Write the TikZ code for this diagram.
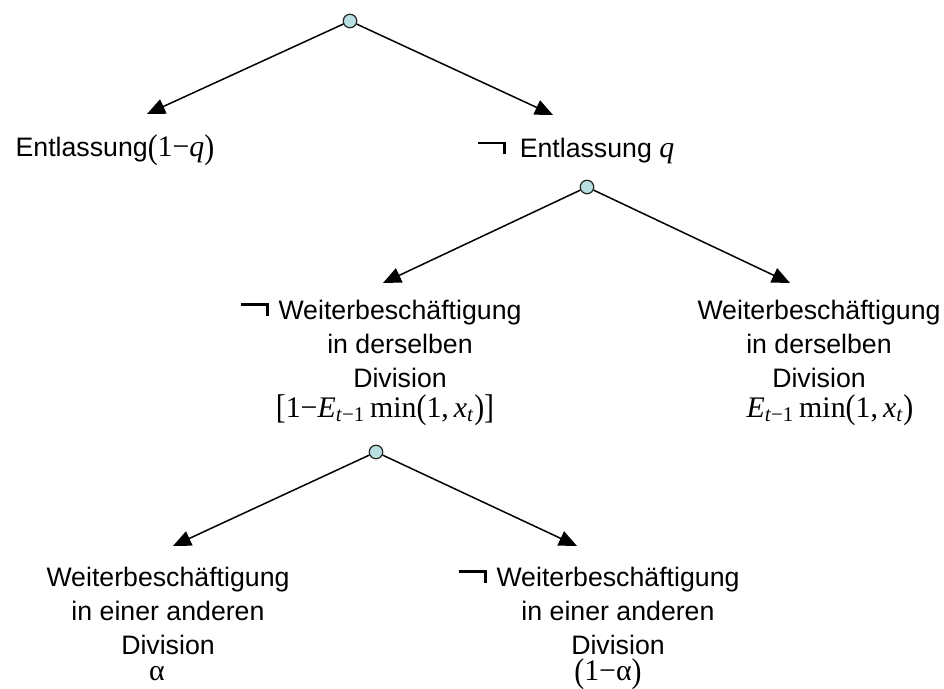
\documentclass[tikz,border=0pt]{standalone}
\usepackage{fontspec}
\usepackage{graphicx}
\setmainfont{Liberation Sans}
\newfontfamily\tms{Liberation Serif}
\usetikzlibrary{arrows.meta,positioning}
\definecolor{knotfill}{RGB}{184,223,226}
\definecolor{knotdraw}{RGB}{40,40,40}
\newcommand{\nicht}{\rule[0.28cm]{0.56cm}{1.3pt}\hspace{-1.3pt}\rule[0.07cm]{1.3pt}{0.24cm}}
\newcommand{\hp}[1]{\raisebox{-0.05em}{\scalebox{1}[1.15]{#1}}}
\newcommand{\fml}[1]{{\tms\fontsize{17}{20}\selectfont #1}}

\begin{document}
\begin{tikzpicture}[x=0.02cm, y=-0.02cm,
  knot/.style={circle, draw=knotdraw, fill=knotfill, minimum size=0.27cm, inner sep=0pt, line width=0.7pt},
  zweig/.style={-{Triangle[length=3.6mm,width=3.1mm]}, line width=0.85pt},
  lbl/.style={inner sep=0pt, align=center, font=\fontsize{15.2}{19.3}\selectfont}]
\useasboundingbox (0,0) rectangle (944,689);
% Knoten
\node[knot] (k1) at (350,21) {};
\node[knot] (k2) at (587,187) {};
\node[knot] (k3) at (376,452) {};
% Pfeilspitzen
\coordinate (e1) at (147,114);
\coordinate (e2) at (553,115);
\coordinate (e3) at (383,283);
\coordinate (e4) at (790,283);
\coordinate (e5) at (173,546);
\coordinate (e6) at (577,546);
\draw[zweig] (k1) -- (e1);
\draw[zweig] (k1) -- (e2);
\draw[zweig] (k2) -- (e3);
\draw[zweig] (k2) -- (e4);
\draw[zweig] (k3) -- (e5);
\draw[zweig] (k3) -- (e6);

% Entlassung
\node[lbl, anchor=base] (ent) at (115,157) {Entlassung\fml{\hp{(}1−\textit{q}\hp{)}}};
\node[lbl, anchor=base] (nent) at (576,158) {\nicht\hspace{0.28cm}Entlassung \fml{\textit{q}}};

% Weiterbeschaeftigung, dieselbe Division
\node[lbl, anchor=north] (nweit) at (400,300) {\llap{\nicht\hspace{0.2cm}}Weiterbeschäftigung\\in derselben\\Division\\[-2.5pt]
  \fml{\hp{[}1−\textit{E}\textsubscript{\textit{t}−1}\,min\hp{(}1,\,\textit{x}\textsubscript{\textit{t}}\hp{)}\hp{]}}\hspace*{0.6cm}};
\node[lbl, anchor=north] (weit) at (819,300) {Weiterbeschäftigung\\in derselben\\Division\\[-2.5pt]
  \hspace*{0.44cm}\fml{\textit{E}\textsubscript{\textit{t}−1}\,min\hp{(}1,\,\textit{x}\textsubscript{\textit{t}}\hp{)}}};

% andere Division
\node[lbl, anchor=north] (and) at (168,567) {Weiterbeschäftigung\\in einer anderen\\Division\\[-4.5pt]
  \fml{α}\hspace*{0.44cm}};
\node[lbl, anchor=north] (nand) at (618,567) {\llap{\nicht\hspace{0.2cm}}Weiterbeschäftigung\\in einer anderen\\Division\\[-4.5pt]
  \fml{\hp{(}1−α\hp{)}}\hspace*{0.4cm}};
\end{tikzpicture}
\end{document}
